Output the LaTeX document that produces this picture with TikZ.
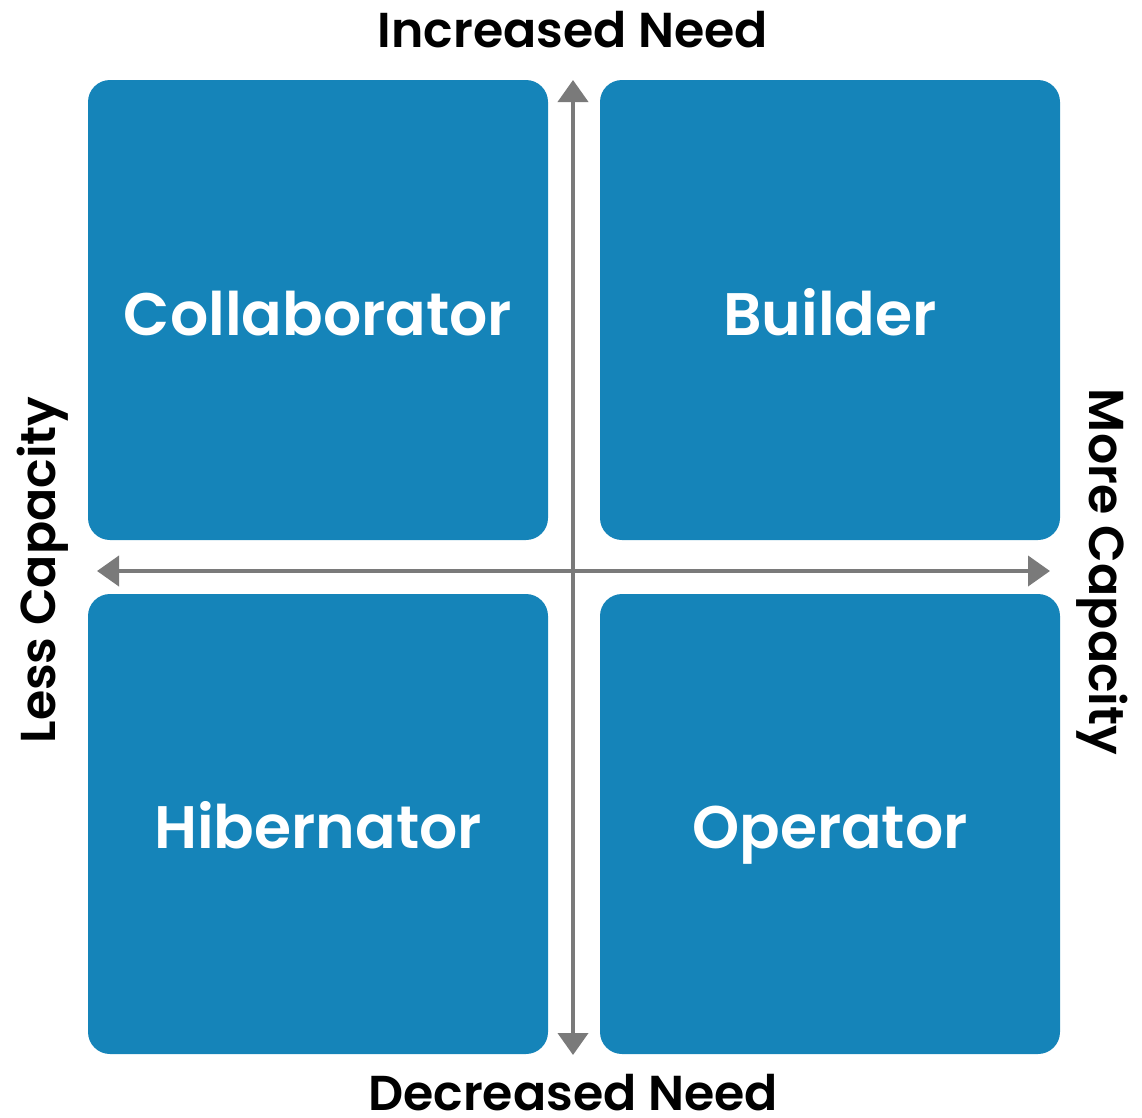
\documentclass[tikz,border=0pt]{standalone}
\usepackage{fontspec}
\setmainfont{Poppins}[BoldFont={* SemiBold}]
\usetikzlibrary{arrows.meta}
\definecolor{quadblue}{HTML}{1584B9}
\definecolor{axisgray}{HTML}{7A7A7A}
\tikzset{
  quad/.style={fill=quadblue, rounded corners=22pt},
  quadlabel/.style={text=white, anchor=base, font=\fontsize{60}{62}\selectfont\bfseries},
  axislabel/.style={text=black, anchor=base, inner sep=0pt, font=\fontsize{49}{52}\selectfont\bfseries},
  axisarrow/.style={axisgray, line width=4pt, -{Triangle[length=22pt,width=30pt]}}
}
\begin{document}
\begin{tikzpicture}[x=1pt, y=-1pt]
        \useasboundingbox (0,0) rectangle (1142,1117);
        % Quadrant boxes
        \foreach \x/\y/\n in {88/80/cl,600/80/bu,88/594/hi,600/594/op} {
            \fill[quad] (\x,\y) rectangle ++(460,460);
        }
        % Quadrant labels
        \node[quadlabel] (collab) at (318,335) {Collaborator};
        \node[quadlabel] (build) at (830,335) {Builder};
        \node[quadlabel] (hiber) at (318,848) {Hibernator};
        \node[quadlabel] (oper) at (830,848) {Operator};
        % Axes
        \coordinate (top) at (573,80);
        \coordinate (bottom) at (573,1055);
        \coordinate (left) at (97,571);
        \coordinate (right) at (1050,571);
        \coordinate (mid) at (573,571);
        \draw[axisarrow] (mid) -- (top);
        \draw[axisarrow] (mid) -- (bottom);
        \draw[axisarrow] (mid) -- (left);
        \draw[axisarrow] (mid) -- (right);
        % Axis labels
        \node[axislabel] (incr) at (573,47) {Increased Need};
        \node[axislabel] (decr) at (573,1110) {Decreased Need};
        \node[axislabel, rotate=90] (less) at (55,570) {Less Capacity};
        \node[axislabel, rotate=-90] (more) at (1089,572) {More Capacity};
    \end{tikzpicture}
\end{document}
